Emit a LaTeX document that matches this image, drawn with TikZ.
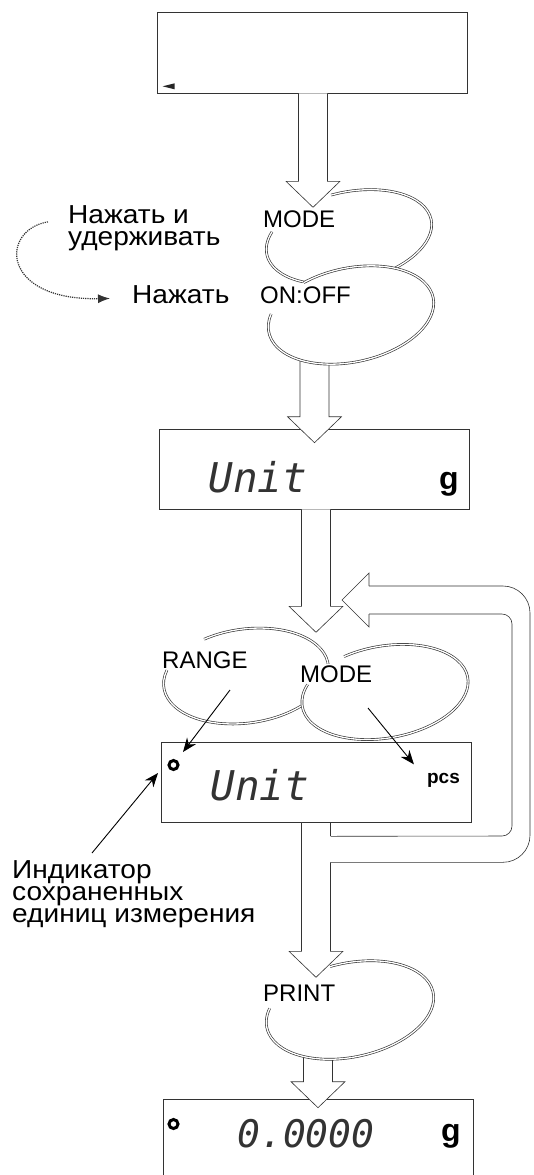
\documentclass[tikz,border=0pt]{standalone}
\usepackage{fontspec}
\setmainfont{Liberation Sans}
\newfontfamily\notefont{Liberation Sans}[FakeStretch=1.08]
\newfontfamily\segfont{DejaVu Sans Mono}
\usepackage{tikz}
\usetikzlibrary{arrows.meta, positioning, calc}

% key outline: open elliptic ring around a coordinate
\newcommand\keyring[6]{%
  \begin{scope}[shift={(#1)}, rotate=#2]
    \fill[white] (0,0) ellipse [x radius=#3, y radius=#4];
    \draw[keyline] (#5:#3 and #4) arc [start angle=#5, end angle=#6,
                                      x radius=#3, y radius=#4];
  \end{scope}}
% wide hollow arrow pointing down
\newcommand\blockdown[2]{%
  \draw[hollow] let \p1=(#1), \p2=(#2) in
    (\x2-14.5pt,\y1) -- (\x2-14.5pt,\y2+26pt) -- (\x2-27pt,\y2+26pt) -- (\x2,\y2)
    -- (\x2+27pt,\y2+26pt) -- (\x2+14.5pt,\y2+26pt) -- (\x2+14.5pt,\y1);}

\begin{document}
\begin{tikzpicture}[x=1pt, y=1pt,
  disp/.style    = {draw=black!80, line width=0.6pt, minimum width=310pt,
                    minimum height=80pt, inner sep=0pt},
  lbl/.style     = {inner sep=0pt, align=left, font=\notefont\fontsize{26}{22}\selectfont},
  keylbl/.style  = {inner sep=1pt, fill=white, font=\fontsize{24}{24}\selectfont},
  seg/.style     = {inner sep=0pt, text=black!80,
                    font=\segfont\itshape\fontsize{#1}{#1}\selectfont},
  unitlbl/.style = {inner sep=0pt, font=\bfseries\fontsize{32}{32}\selectfont},
  ind/.style     = {circle, draw, line width=3pt, minimum size=9pt, inner sep=0pt},
  keyline/.style = {draw=black!80, line width=0.65pt, double=white, double distance=1.3pt},
  hollow/.style  = {draw=black!80, line width=0.6pt, fill=white},
  wire/.style    = {draw=black!80, line width=0.6pt},
  ptr/.style     = {-{Stealth[length=14pt, width=11pt]}, line width=0.9pt},
  hint/.style    = {densely dotted, draw=black!80, line width=1.2pt,
                    -{Latex[length=12pt, width=9pt]}},
]
\useasboundingbox (0,0) rectangle (533,-1175);

%% Initial display
\node[disp, minimum height=81pt] (disp1) at (312,-52.5) {};
\fill[black!85] ($(disp1.south west)+(6,7)$) -- ++(12,3) -- ++(0,-6) -- cycle;

%% MODE held, then ON:OFF
\coordinate (modeKeyA) at (349,-237);
\coordinate (onKey)    at (351,-315);
\keyring{modeKeyA}{12}{84}{45}{96}{-208}
\blockdown{disp1.south}{$(disp1.south)+(1,-114)$}
\node[disp] (disp2) at (314.5,-469) {};
\blockdown{disp2.north |- onKey}{$(disp2.north)+(0,-14)$}
\keyring{onKey}{12}{84}{47}{118}{-202}
\node[keylbl, anchor=base west] (modeLblA) at (262,-227) {MODE};
\node[keylbl, anchor=base west] (onLbl)    at (259,-303) {ON:OFF};

\node[lbl, anchor=north west] (holdLbl)  at (68,-205)  {Нажать и\\удерживать};
\node[lbl, anchor=base west]  (pressLbl) at (132,-303) {Нажать};
\draw[hint] ($(holdLbl.west)+(-20,6)$) .. controls +(-48,-8) and +(-110,-2)
  .. ($(pressLbl.west)+(-22,-4.3)$);

%% Unit display
\node[seg=41] (unitA) at (258,-477) {Unit};
\node[unitlbl, anchor=base] (gA) at (449,-489) {g};

%% RANGE / MODE selection
\node[disp] (disp3) at (316,-782) {};
\coordinate (rangeKey) at (246,-676);
\coordinate (modeKeyB) at (385,-692);
\keyring{rangeKey}{8}{83}{47}{116}{-201}
\keyring{modeKeyB}{10}{84}{46}{114}{-207}
\blockdown{disp2.south}{$(disp2.south)+(1.5,-123)$}
\node[keylbl, anchor=base west] (rangeLbl) at (161,-668) {RANGE};
\node[keylbl, anchor=base west] (modeLblB) at (299,-682) {MODE};

\node[ind] (ind3) at (173.5,-765) {};
\node[seg=41] (unitB) at (260,-785) {Unit};
\node[inner sep=0pt, anchor=base, font=\bfseries\fontsize{19}{19}\selectfont]
  (pcsLbl) at (443.5,-783) {pcs};
\draw[ptr] ($(rangeKey)+(-16,-14)$) -- ($(ind3)+(9.5,13)$);
\draw[ptr] ($(modeKeyB)+(-17,-16)$) -- ($(pcsLbl.west)+(-13,15.5)$);

%% Indicator note
\node[lbl, anchor=north west] (indLbl) at (12,-860)
  {Индикатор\\сохраненных\\единиц измерения};
\draw[ptr] ($(indLbl.north west)+(80,7)$) -- ($(ind3)+(-15.5,-8)$);

%% PRINT
\node[disp, minimum height=90pt] (disp4) at (318,-1144) {};
\coordinate (printKey) at (350,-1010);
\blockdown{disp4.north |- printKey}{$(disp4.north)+(0,-9)$}
\keyring{printKey}{12}{85}{47}{97}{-203}

%% Down arrow with return loop
\coordinate (loopTip) at (342,-600);
\coordinate (loopOut) at (530,-600);
\coordinate (loopIn)  at (512,-836);
\draw[hollow] ($(disp3.south)+(-14.5,0)$) -- ++(0,-129) -- ++(-12.5,0) -- ++(27,-26)
  -- ++(27,26) -- ++(-12.5,0) -- ++(0,89);
\draw[wire, rounded corners=27pt] ($(disp3.south)+(14.5,-40)$) -| ($(loopOut)+(0,14)$)
  -- ($(loopTip)+(27,14)$);
\draw[wire] ($(loopTip)+(27,14)$) -- ++(0,13) -- (loopTip) -- ++(27,-27) -- ++(0,13);
\draw[wire, rounded corners=10pt] ($(loopTip)+(27,-14)$) -| (loopIn)
  -- ($(disp3.south)+(14.5,-14)$);
\draw[wire] ($(disp3.south)+(14.5,-14)$) -- ++(0,14);

\node[keylbl, anchor=base west] (printLbl) at (262,-1001) {PRINT};

%% Final display
\node[ind] (ind4) at (173.5,-1124) {};
\node[seg=38] (zeros) at (306,-1134) {0.0000};
\node[unitlbl, anchor=base] (gB) at (451,-1141) {g};

\end{tikzpicture}
\end{document}
